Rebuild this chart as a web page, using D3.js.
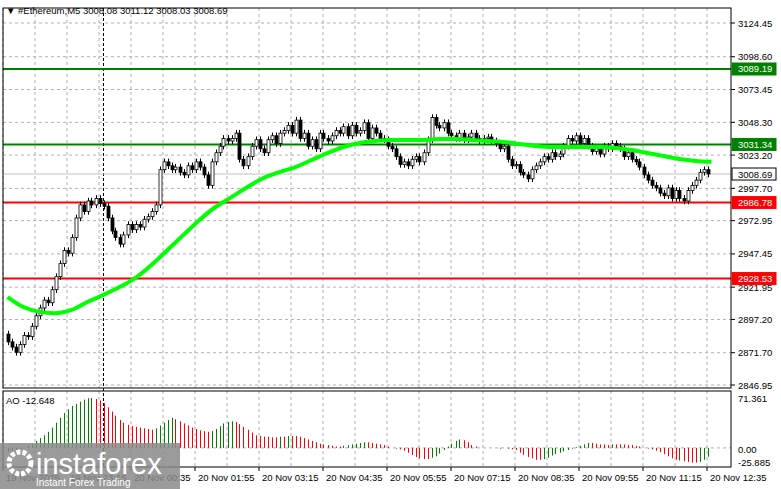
<!DOCTYPE html>
<html><head><meta charset="utf-8">
<script src="https://cdn.jsdelivr.net/npm/d3@7"></script>
<style>body{margin:0;background:#fff}text{font-family:"Liberation Sans",Arial,sans-serif}</style>
</head><body><svg width="781" height="489"></svg>
<script>
// closes of the M5 candles
var closes = [2880,2876,2872,2878,2885,2884,2892,2900,
  2906,2912,2910,2920,2930,2940,2950,2948,
  2960,2975,2985,2980,2988,2985,2990,2986,
  2984,2975,2965,2960,2955,2962,2970,2966,
  2970,2968,2974,2976,2980,2985,3012,3018,
  3015,3012,3014,3010,3008,3015,3012,3018,
  3014,3008,3000,3018,3025,3030,3036,3034,
  3036,3040,3020,3015,3022,3030,3035,3028,
  3025,3035,3038,3032,3040,3042,3046,3040,
  3050,3036,3040,3030,3035,3028,3040,3036,
  3034,3038,3042,3040,3045,3038,3046,3040,
  3042,3048,3036,3044,3040,3036,3035,3030,
  3028,3022,3016,3018,3015,3020,3022,3018,
  3025,3035,3052,3046,3044,3048,3040,3038,
  3036,3040,3035,3037,3040,3036,3034,3036,
  3037,3034,3032,3028,3030,3020,3015,3016,
  3010,3008,3005,3012,3015,3018,3022,3020,
  3025,3022,3024,3030,3036,3034,3038,3032,
  3036,3030,3026,3028,3024,3030,3028,3032,
  3030,3028,3022,3025,3020,3018,3014,3008,
  3004,3000,2998,2994,2992,2998,2990,2996,
  2990,2988,2996,3000,3004,3010,3012,3008.69];
var firstOpen = 2886;
// moving average, one value every 4 candles
var maVals = [2914.4,2906.7,2903,2902,2904.5,2910.6,2916,2922,2929,2939,2950.4,2962,2973.5,2983.4,2991,
  2998.7,3005.6,3010.2,3014,3019.4,3024.8,3029.4,3032.5,3034,3034.8,3034.8,3034.8,3035.5,3035.5,3034.8,
  3034,3033.3,3031.7,3030.2,3029.4,3029.4,3029.4,3029.4,3028.6,3027.1,3024.8,3022.5,3020.2,3018.7,3018];
// Awesome Oscillator
var ao = [-6,-8,-5,-2,0,3,6,10, 14,18,23,29,36,43,50,55, 60,63,66,69,71,71.361,70,68,
  64,58,52,46,40,36,33,31, 30,29,28,27,26,28,32,36, 40,43,41,38,35,32,29,27,
  25,24,23,24,27,31,35,37, 38,37,34,30,26,22,18,17, 16,16,15,15,16,16,17,17,
  17,16,14,12,10,8,6,5, 4,3,2,2,3,4,5,6, 7,8,8,7,6,5,4,2,
  0,-1,-2,-4,-7,-10,-13,-15, -16,-16,-14,-12,-8,-3,2,6, 10,12,11,8,4,2,0,0,
  0,0,0,-1,0,-1,-2,-3, -7,-10,-13,-15,-17,-17,-16,-14, -11,-9,-7,-5,-3,-1,1,3,
  5,7,7,6,5,5,4,5, 5,5,5,4,4,3,2,0, -1,-2,-4,-6,-9,-12,-15,-17, -18,-19,-20,-21,-21,-20,-17,-12.648];
var priceTicks = [3124.45,3098.60,3073.45,3048.30,3023.20,2997.70,2972.95,2947.45,2921.95,2897.20,2871.70,2846.95];
var levelVals = [3089.19,3031.34,2986.78,2928.53];
var levelCols = ["#008000","#008000","#ff0000","#ff0000"];
var timeLabels = ["19 Nov 2025","19 Nov 23:15","20 Nov 00:35","20 Nov 01:55","20 Nov 03:15","20 Nov 04:35",
  "20 Nov 05:55","20 Nov 07:15","20 Nov 08:35","20 Nov 09:55","20 Nov 11:15","20 Nov 12:35"];

var svg = d3.select("svg");
var L = 3, R = 731, T = 8, B = 388, aT = 391, aB = 467;
var x = d3.scaleLinear().domain([0, 175]).range([7.5, 707.5]);
var y = d3.scaleLinear().domain([2846.95, 3124.45]).range([385, 23]);
var ya = d3.scaleLinear().domain([-25.885, 71.361]).range([466, 398]);

// grid
var g = svg.append("g").attr("stroke", "#b0b0b0").attr("stroke-dasharray", "3,3");
timeLabels.forEach(function(t, i) {
  var gx = x(i * 16) - 4.5;
  [gx, gx + 32].forEach(function(v) {
    if (v >= R) return;
    g.append("line").attr("x1", v).attr("x2", v).attr("y1", T).attr("y2", B);
    g.append("line").attr("x1", v).attr("x2", v).attr("y1", aT).attr("y2", aB);
  });
});
priceTicks.forEach(function(p) {
  g.append("line").attr("x1", L).attr("x2", R).attr("y1", y(p)).attr("y2", y(p));
});
g.append("line").attr("x1", L).attr("x2", R).attr("y1", ya(0)).attr("y2", ya(0));

// period separator
svg.append("line").attr("x1", 103.5).attr("x2", 103.5).attr("y1", T).attr("y2", aB)
  .attr("stroke", "#000").attr("stroke-dasharray", "3,2");

// bid line
svg.append("line").attr("x1", L).attr("x2", R).attr("y1", y(3008.69)).attr("y2", y(3008.69)).attr("stroke", "#c0c0c0");

// levels
levelVals.forEach(function(v, i) {
  svg.append("line").attr("x1", L).attr("x2", R).attr("y1", y(v)).attr("y2", y(v))
    .attr("stroke", levelCols[i]).attr("stroke-width", 2);
});

// candles
var cg = svg.append("g");
closes.forEach(function(c, i) {
  var o = i ? closes[i - 1] : firstOpen;
  var hi = Math.max(o, c) + 2.5, lo = Math.min(o, c) - 2.5;
  var cx = Math.round(x(i)) + 0.5;
  cg.append("line").attr("x1", cx).attr("x2", cx).attr("y1", y(hi)).attr("y2", y(lo)).attr("stroke", "#000");
  var top = y(Math.max(o, c)), h = Math.max(1, Math.abs(y(o) - y(c)));
  cg.append("rect").attr("x", cx - 1.5).attr("y", top).attr("width", 3).attr("height", h)
    .attr("fill", c >= o ? "#fff" : "#000").attr("stroke", "#000").attr("stroke-width", 0.8);
});

// MA
svg.append("path").datum(maVals)
  .attr("d", d3.line().x(function(d, i) { return x(i * 4); }).y(function(d) { return y(d); }).curve(d3.curveMonotoneX))
  .attr("fill", "none").attr("stroke", "#00ff00").attr("stroke-width", 4);

// AO bars
ao.forEach(function(v, i) {
  var cx = Math.round(x(i)) + 0.5;
  svg.append("line").attr("x1", cx).attr("x2", cx).attr("y1", ya(0)).attr("y2", ya(v))
    .attr("stroke", i && v > ao[i - 1] ? "#008000" : "#ff0000");
});

// frames
svg.append("rect").attr("x", L).attr("y", T).attr("width", R - L).attr("height", B - T).attr("fill", "none").attr("stroke", "#000");
svg.append("rect").attr("x", L).attr("y", aT).attr("width", R - L).attr("height", aB - aT).attr("fill", "none").attr("stroke", "#000");

// price axis
priceTicks.forEach(function(p) {
  svg.append("line").attr("x1", R).attr("x2", R + 4).attr("y1", y(p)).attr("y2", y(p)).attr("stroke", "#000");
  svg.append("text").attr("x", 738).attr("y", y(p) + 3.5).attr("font-size", 9.5).text(p.toFixed(2));
});
function tag(v, col, txtCol) {
  svg.append("rect").attr("x", R + 1).attr("y", y(v) - 6).attr("width", 44).attr("height", 12)
    .attr("fill", col).attr("stroke", col === "#fff" ? "#000" : col);
  svg.append("text").attr("x", 738).attr("y", y(v) + 3.5).attr("font-size", 9.5).attr("fill", txtCol).text(v.toFixed(2));
}
levelVals.forEach(function(v, i) { tag(v, levelCols[i], "#fff"); });
tag(3008.69, "#fff", "#000");

// AO axis
[[71.361, "71.361", 398], [0, "0.00", 449], [-25.885, "-25.885", 462]].forEach(function(a) {
  svg.append("text").attr("x", 738).attr("y", a[2] + 3.5).attr("font-size", 9.5).text(a[1]);
});

// time axis
timeLabels.forEach(function(t, i) {
  var gx = x(i * 16) - 4.5;
  svg.append("line").attr("x1", gx).attr("x2", gx).attr("y1", aB).attr("y2", aB + 4).attr("stroke", "#000");
  svg.append("text").attr("x", gx + 3).attr("y", 481).attr("font-size", 9.5).text(t);
});

svg.append("text").attr("x", 6).attr("y", 14).attr("font-size", 9.5).text("\u25BC #Ethereum,M5  3008.08 3011.12 3008.03 3008.69");
svg.append("text").attr("x", 6).attr("y", 404).attr("font-size", 9.5).text("AO -12.648");

// watermark
var w = svg.append("g");
w.append("rect").attr("x", 0).attr("y", 443).attr("width", 180).attr("height", 46).attr("fill", "#8a8a8a").attr("opacity", 0.85);
w.append("circle").attr("cx", 20).attr("cy", 463).attr("r", 11).attr("fill", "none").attr("stroke", "#fff").attr("stroke-width", 5).attr("stroke-dasharray", "4,2");
w.append("text").attr("x", 36).attr("y", 474).attr("font-size", 29).attr("fill", "#fff").text("instaforex");
w.append("text").attr("x", 36).attr("y", 486).attr("font-size", 10).attr("fill", "#fff").text("Instant Forex Trading");
</script></body></html>
